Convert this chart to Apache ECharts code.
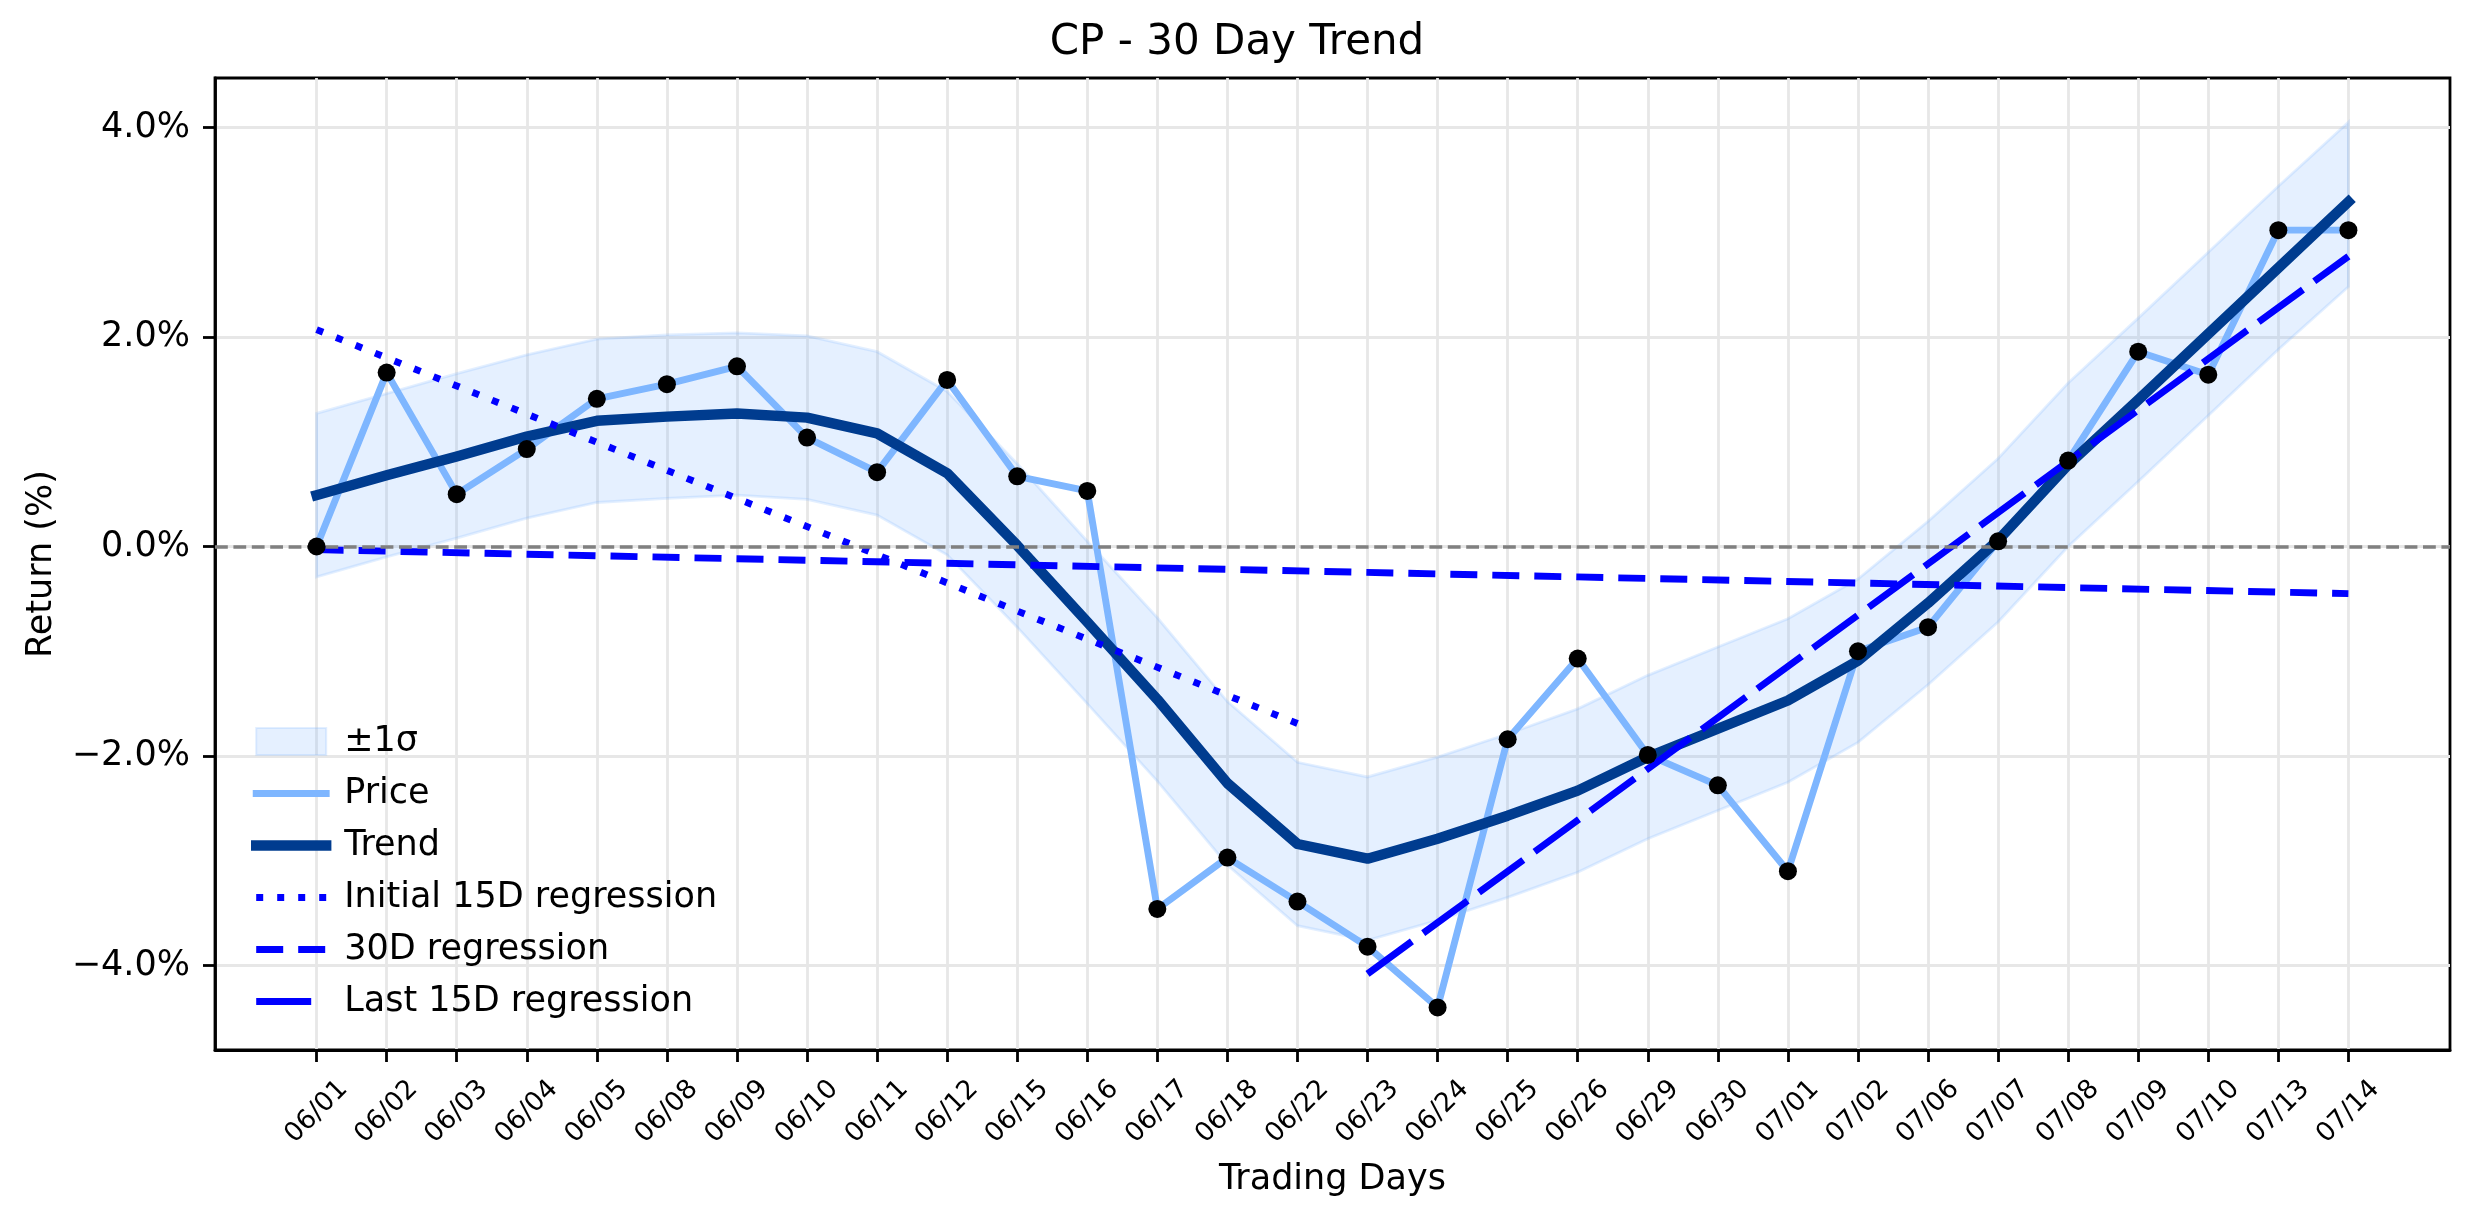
<!DOCTYPE html>
<html>
<head>
<meta charset="utf-8">
<script src="https://cdn.jsdelivr.net/npm/echarts@6/dist/echarts.min.js"></script>
<style>html,body{margin:0;padding:0;background:#fff}#c{width:2474px;height:1224px}</style>
</head>
<body>
<div id="c"></div>
<script>
// ---- data ----
const dates = ['06/01','06/02','06/03','06/04','06/05','06/08','06/09','06/10','06/11','06/12',
  '06/15','06/16','06/17','06/18','06/22','06/23','06/24','06/25','06/26','06/29',
  '06/30','07/01','07/02','07/06','07/07','07/08','07/09','07/10','07/13','07/14'];
const price = [0.00, 1.66, 0.50, 0.93, 1.41, 1.55, 1.72, 1.04, 0.71, 1.59,
  0.67, 0.53, -3.46, -2.97, -3.39, -3.82, -4.40, -1.84, -1.07, -1.99,
  -2.28, -3.10, -1.00, -0.77, 0.05, 0.82, 1.86, 1.64, 3.02, 3.02];
const trend = [0.49, 0.68, 0.86, 1.05, 1.20, 1.24, 1.27, 1.23, 1.08, 0.70,
  0.01, -0.72, -1.46, -2.26, -2.84, -2.98, -2.79, -2.57, -2.33, -2.01,
  -1.74, -1.47, -1.09, -0.54, 0.06, 0.78, 1.40, 2.03, 2.66, 3.29];
const bandUpper = [1.27, 1.46, 1.65, 1.83, 1.98, 2.02, 2.04, 2.01, 1.86, 1.48,
  0.79, 0.05, -0.68, -1.48, -2.06, -2.20, -2.01, -1.79, -1.55, -1.23,
  -0.96, -0.69, -0.31, 0.24, 0.84, 1.56, 2.18, 2.81, 3.44, 4.05];
const bandLower = [-0.29, -0.10, 0.08, 0.27, 0.42, 0.46, 0.49, 0.45, 0.30, -0.08,
  -0.77, -1.50, -2.24, -3.04, -3.62, -3.76, -3.57, -3.35, -3.11, -2.79,
  -2.52, -2.25, -1.87, -1.32, -0.72, 0.00, 0.62, 1.25, 1.88, 2.48];
const init15Days = [0, 14];
const init15Values = [2.07, -1.69];
const reg30Days = [0, 29];
const reg30Values = [-0.03, -0.45];
const last15Days = [15, 29];
const last15Values = [-4.08, 2.77];
const yTicks = [-4, -2, 0, 2, 4];

// ---- styling ----
const FONT = 'DejaVu Sans';
const C_PRICE = '#7eb6ff';
const C_TREND = '#003c8f';
const C_REG = '#0000ff';
const C_BAND = 'rgba(126,182,255,0.2)';
const C_BAND_EDGE = 'rgba(126,182,255,0.22)';
const LW = 6.9;
const D_DOT = [7, 14];
const D_DASH = [27, 15];
const D_LONG = [55, 14];

const idx = dates.map((d, i) => i);
const pairs = (xs, ys) => xs.map((x, i) => [x, ys[i]]);
const fmtPct = v => (v < 0 ? '\u2212' : '') + Math.abs(v).toFixed(1) + '%';

const chart = echarts.init(document.getElementById('c'), null, {renderer: 'canvas', width: 2474, height: 1224});

const option = {
  animation: false,
  backgroundColor: '#ffffff',
  title: {
    text: 'CP - 30 Day Trend',
    left: 'center',
    top: 22,
    padding: [0, 0, 0, 191],
    textStyle: {fontFamily: FONT, fontSize: 42, fontWeight: 'normal', color: '#000'}
  },
  grid: {
    left: 215, top: 78, width: 2235, height: 972,
    show: true, borderColor: '#000', borderWidth: 2.8,
    outerBoundsMode: 'none', containLabel: false
  },
  legend: {
    orient: 'vertical', left: 246, top: 719,
    itemWidth: 70, itemHeight: 27, itemGap: 17,
    selectedMode: false,
    textStyle: {fontFamily: FONT, fontSize: 35, color: '#000', lineHeight: 35, padding: [0, 0, 0, 13]},
    data: [
      {name: '\u00b11\u03c3', icon: 'rect', itemStyle: {color: C_BAND, borderColor: C_BAND_EDGE, borderWidth: 2}},
      {name: 'Price', itemStyle: {opacity: 0}, lineStyle: {color: C_PRICE, width: LW, type: 'solid', cap: 'square'}},
      {name: 'Trend', itemStyle: {opacity: 0}, lineStyle: {color: C_TREND, width: 10.4, type: 'solid', cap: 'square'}},
      {name: 'Initial 15D regression', itemStyle: {opacity: 0}, lineStyle: {color: C_REG, width: LW, type: D_DOT}},
      {name: '30D regression', itemStyle: {opacity: 0}, lineStyle: {color: C_REG, width: LW, type: D_DASH}},
      {name: 'Last 15D regression', itemStyle: {opacity: 0}, lineStyle: {color: C_REG, width: LW, type: [55, 20]}}
    ]
  },
  xAxis: {
    type: 'value', min: -1.45, max: 30.45,
    axisLine: {show: true, onZero: false, lineStyle: {color: '#000', width: 2.8}},
    axisTick: {show: true, customValues: idx, length: 12, lineStyle: {color: '#000', width: 2.8}},
    axisLabel: {
      customValues: idx, formatter: v => dates[Math.round(v)],
      rotate: 45, align: 'center', verticalAlign: 'middle', margin: 62,
      fontFamily: FONT, fontSize: 26.5, color: '#000'
    },
    splitLine: {show: true, lineStyle: {color: '#e7e7e7', width: 2.8}},
    name: 'Trading Days', nameLocation: 'middle', nameGap: 112,
    nameTextStyle: {fontFamily: FONT, fontSize: 35, color: '#000'}
  },
  yAxis: {
    type: 'value', min: -4.8067, max: 4.4726,
    axisLine: {show: true, onZero: false, lineStyle: {color: '#000', width: 2.8}},
    axisTick: {show: true, customValues: yTicks, length: 12, lineStyle: {color: '#000', width: 2.8}},
    axisLabel: {customValues: yTicks, formatter: fmtPct, margin: 25, fontFamily: FONT, fontSize: 35, color: '#000'},
    splitLine: {show: true, lineStyle: {color: '#e7e7e7', width: 2.8}},
    name: 'Return (%)', nameLocation: 'middle', nameGap: 156, nameRotate: 90,
    nameTextStyle: {fontFamily: FONT, fontSize: 35, color: '#000'}
  },
  series: [
    {
      name: '\u00b11\u03c3', type: 'custom', z: 1,
      data: idx.map(i => [i, bandUpper[i], bandLower[i]]),
      encode: {x: 0, y: [1, 2]},
      renderItem: (params, api) => {
        if (params.dataIndex !== 0) return null;
        const pts = [];
        for (let i = 0; i < dates.length; i++) pts.push(api.coord([i, bandUpper[i]]));
        for (let i = dates.length - 1; i >= 0; i--) pts.push(api.coord([i, bandLower[i]]));
        return {type: 'polygon', shape: {points: pts}, style: {fill: C_BAND, stroke: C_BAND_EDGE, lineWidth: 2.8}};
      }
    },
    {
      name: 'Price', type: 'line', z: 2, symbol: 'none',
      data: pairs(idx, price),
      lineStyle: {color: C_PRICE, width: LW, cap: 'square', join: 'round'},
      itemStyle: {color: C_PRICE},
      markLine: {
        silent: true, symbol: ['none', 'none'], label: {show: false},
        lineStyle: {color: '#808080', width: 3.5, type: [12.8, 5.6]},
        data: [{yAxis: 0}]
      }
    },
    {
      name: 'Trend', type: 'line', z: 3, symbol: 'none',
      data: pairs(idx, trend),
      lineStyle: {color: C_TREND, width: 10.4, cap: 'square', join: 'round'},
      itemStyle: {color: C_TREND}
    },
    {
      name: 'Initial 15D regression', type: 'line', z: 4, symbol: 'none',
      data: pairs(init15Days, init15Values),
      lineStyle: {color: C_REG, width: LW, type: D_DOT},
      itemStyle: {color: C_REG}
    },
    {
      name: '30D regression', type: 'line', z: 4, symbol: 'none',
      data: pairs(reg30Days, reg30Values),
      lineStyle: {color: C_REG, width: LW, type: D_DASH},
      itemStyle: {color: C_REG}
    },
    {
      name: 'Last 15D regression', type: 'line', z: 4, symbol: 'none',
      data: pairs(last15Days, last15Values),
      lineStyle: {color: C_REG, width: LW, type: D_LONG},
      itemStyle: {color: C_REG}
    },
    {
      name: 'points', type: 'scatter', z: 6, symbol: 'circle', symbolSize: 18,
      data: pairs(idx, price),
      itemStyle: {color: '#000', opacity: 1}
    }
  ]
};
chart.setOption(option);
</script>
</body>
</html>
